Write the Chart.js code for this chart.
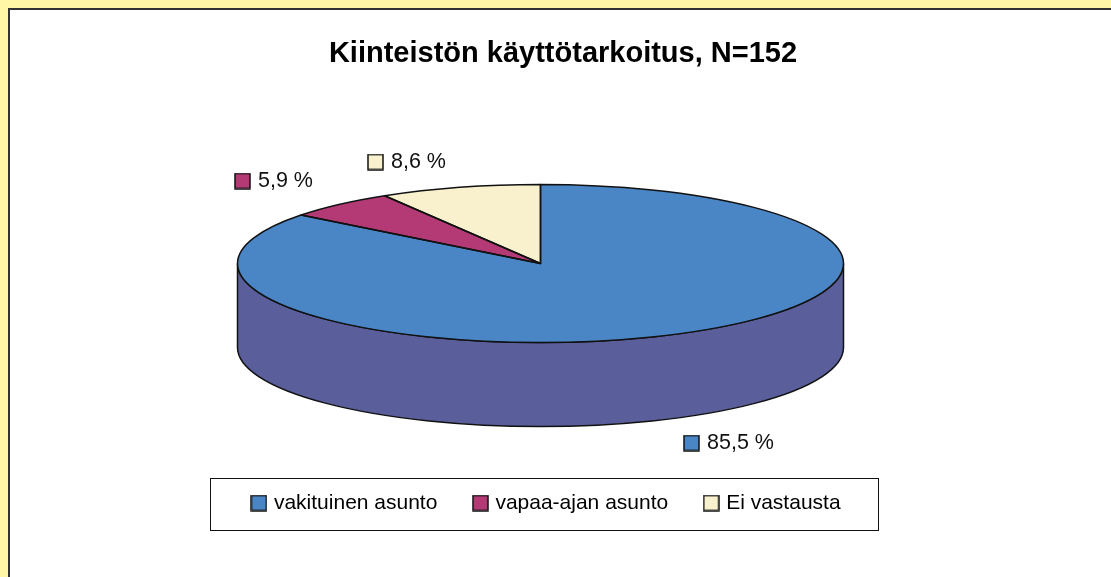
<!DOCTYPE html>
<html>
<head>
<meta charset="utf-8">
<script src="https://cdn.jsdelivr.net/npm/chart.js@4/dist/chart.umd.min.js"></script>
<style>
  html, body { margin: 0; height: 100%; overflow: hidden; background: #fff6a6; }
  #frame { position: absolute; left: 8px; top: 8px; right: 0; bottom: 0; background: #fff; border-left: 2px solid #333; border-top: 2px solid #333; }
  canvas { position: absolute; left: 0; top: 0; }
</style>
</head>
<body>
<div id="frame"></div>
<canvas id="pie-chart" width="1111" height="577"></canvas>
<script>
const categories = ["vakituinen asunto", "vapaa-ajan asunto", "Ei vastausta"];
const shares = [85.5, 5.9, 8.6];
const sliceColors = ["#4a86c5", "#b43a76", "#f9f1ce"];
const sideColors = ["#5a5f9b", "#7d2a55", "#c9c2a0"];

const fontName = '"Liberation Sans", Arial, sans-serif';
const outline = "#111";

// tilted pie: the library lays out a round pie, the plugin squashes it
const pieX = 540.5;
const pieY = 263.5;
const radiusX = 303;
const radiusY = 79;
const pieDepth = 84;

// swatch + text, by slice
const labelSpots = [
  { x: 683, y: 443 },
  { x: 234, y: 181 },
  { x: 367, y: 162 },
];

function formatShare(value) {
  return value.toFixed(1).replace(".", ",") + " %";
}

function makeSwatch(color) {
  const swatch = document.createElement("canvas");
  swatch.width = 17;
  swatch.height = 17;
  const g = swatch.getContext("2d");
  g.fillStyle = color;
  g.fillRect(1, 1, 15, 15);
  g.strokeStyle = outline;
  g.lineWidth = 1.5;
  g.strokeRect(1, 1, 15, 15);
  return swatch;
}

const swatches = sliceColors.map(makeSwatch);

function wedgePath(ctx, el) {
  ctx.beginPath();
  ctx.moveTo(pieX, pieY);
  ctx.ellipse(pieX, pieY, radiusX, radiusY, 0, el.startAngle, el.endAngle);
  ctx.closePath();
}

const tiltedPie = {
  id: "tiltedPie",
  afterLayout(chart) {
    // legend sits in its own box low in the plot
    const legend = chart.legend;
    legend.left = 214;
    legend.right = 881;
    legend.top = 454;
    legend.bottom = 530;
  },
  beforeDraw(chart) {
    const ctx = chart.ctx;
    ctx.save();
    ctx.strokeStyle = outline;
    ctx.lineWidth = 1;
    ctx.strokeRect(210.5, 478.5, 668, 52);
    ctx.restore();
  },
  beforeDatasetsDraw(chart) {
    const ctx = chart.ctx;
    const arcs = chart.getDatasetMeta(0).data;
    ctx.save();
    ctx.lineWidth = 1.5;
    ctx.strokeStyle = outline;
    arcs.forEach((el, i) => {
      const from = Math.max(el.startAngle, 0);
      const to = Math.min(el.endAngle, Math.PI);
      if (to <= from) return;
      ctx.beginPath();
      ctx.ellipse(pieX, pieY, radiusX, radiusY, 0, from, to);
      ctx.ellipse(pieX, pieY + pieDepth, radiusX, radiusY, 0, to, from, true);
      ctx.closePath();
      ctx.fillStyle = sideColors[i];
      ctx.fill();
      ctx.stroke();
    });
    ctx.restore();

    const first = arcs[0];
    ctx.save();
    ctx.translate(pieX, pieY);
    ctx.scale(1, radiusY / radiusX);
    ctx.translate(-first.x, -first.y);
  },
  afterDatasetsDraw(chart) {
    const ctx = chart.ctx;
    ctx.restore();
    const arcs = chart.getDatasetMeta(0).data;
    ctx.save();
    ctx.lineWidth = 1.5;
    ctx.strokeStyle = outline;
    ctx.lineJoin = "round";
    arcs.forEach((el) => {
      wedgePath(ctx, el);
      ctx.stroke();
    });
    ctx.font = "21.5px " + fontName;
    ctx.fillStyle = "#111";
    ctx.textBaseline = "middle";
    shares.forEach((value, i) => {
      const spot = labelSpots[i];
      ctx.drawImage(swatches[i], spot.x, spot.y - 8.5);
      ctx.fillText(formatShare(value), spot.x + 24, spot.y);
    });
    ctx.restore();
  },
};

new Chart(document.getElementById("pie-chart"), {
  type: "pie",
  data: {
    labels: categories,
    datasets: [
      {
        data: shares,
        backgroundColor: sliceColors,
        borderWidth: 0,
        clip: false,
      },
    ],
  },
  options: {
    responsive: false,
    animation: false,
    radius: radiusX,
    layout: { padding: { left: 15 } },
    plugins: {
      title: {
        display: true,
        text: "Kiinteistön käyttötarkoitus, N=152",
        color: "#000",
        font: { family: fontName, size: 29, weight: "bold" },
        padding: { top: 37, bottom: 0 },
      },
      legend: {
        position: "bottom",
        labels: {
          color: "#111",
          font: { family: fontName, size: 21 },
          usePointStyle: true,
          pointStyleWidth: 9,
          padding: 38.5,
          generateLabels: () =>
            categories.map((text, i) => ({ text, pointStyle: swatches[i], datasetIndex: 0, index: i })),
        },
      },
      tooltip: { enabled: false },
    },
  },
  plugins: [tiltedPie],
});
</script>
</body>
</html>
